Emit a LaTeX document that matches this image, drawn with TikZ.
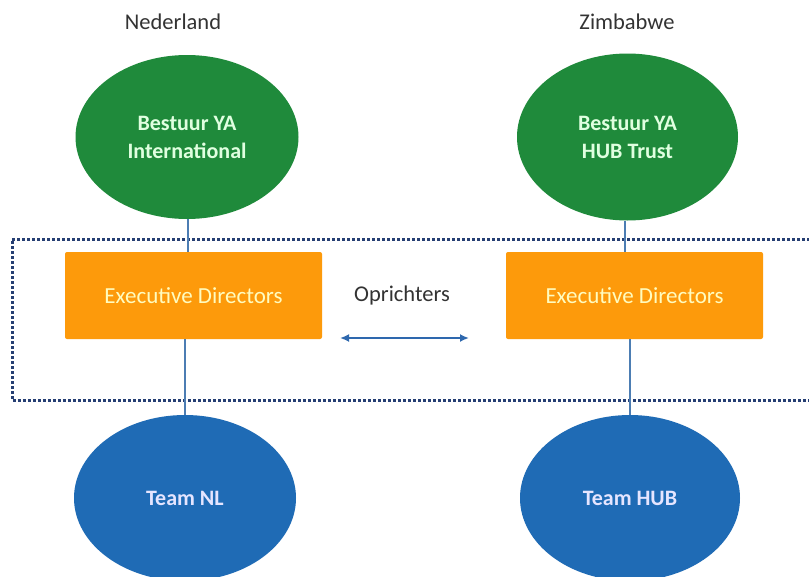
\documentclass[tikz,border=0pt]{standalone}
\usepackage{fontspec}
\setmainfont{Carlito}
\usetikzlibrary{shapes.geometric,arrows.meta}
\definecolor{ygreen}{HTML}{1F8A3B}
\definecolor{yblue}{HTML}{1F6BB5}
\definecolor{yorange}{HTML}{FD9A0B}
\definecolor{ynavy}{HTML}{263F73}
\definecolor{yline}{HTML}{4C7DB3}
\definecolor{yarrow}{HTML}{2E68AE}
\definecolor{ygrey}{HTML}{333333}
\begin{document}
\begin{tikzpicture}[x=1pt,y=-1pt,
  every node/.style={font=\fontsize{22.5}{27}\selectfont},
  greenell/.style={ellipse,fill=ygreen,draw=none,text=white!88!green,font=\fontsize{22}{28}\selectfont\bfseries,align=center,inner sep=0pt},
  blueell/.style={ellipse,fill=yblue,draw=none,text=white!90!blue,font=\fontsize{22}{27}\selectfont\bfseries,inner sep=0pt},
  orbox/.style={rectangle,fill=yorange,draw=none,rounded corners=2pt,text=yellow!25!white,inner sep=0pt,font=\fontsize{23}{27}\selectfont},
  lbl/.style={text=ygrey},
  conn/.style={draw=yline,line width=1.6pt}]
\useasboundingbox (0,0) rectangle (809,576);
\fill[white] (0,0) rectangle (809,576);

\node[lbl] (nl) at (173,22) {Nederland};
\node[lbl] (zw) at (627,22) {Zimbabwe};

\node[greenell,minimum width=223pt,minimum height=164pt] (gl) at (187,137) {Bestuur YA\\International};
\node[greenell,minimum width=221pt,minimum height=167pt] (gr) at (627.5,137) {Bestuur YA\\HUB Trust};

\node[orbox,minimum width=257pt,minimum height=87pt] (ol) at (193.5,295.5) {Executive Directors};
\node[orbox,minimum width=257pt,minimum height=87pt] (or) at (634.5,295.5) {Executive Directors};

\node[blueell,minimum width=222pt,minimum height=166pt] (bl) at (185,498) {Team NL};
\node[blueell,minimum width=220pt,minimum height=166pt] (br) at (630,498) {Team HUB};

\node[lbl] (op) at (402,295) {Oprichters};
\coordinate (al) at (340,338);
\coordinate (ar) at (469,338);

% dotted frame (right side runs off the picture)
\draw[ynavy,line width=3pt,dash pattern=on 3pt off 2pt]
  (830,239) -- (12,239) -- (12,400) -- (830,400);

% connectors
\draw[conn] (gl.south -| 188,0) -- (ol.north -| 188,0);
\draw[conn] (ol.south -| bl.north) -- (bl.north);
\draw[conn] (gr.south -| 625,0) -- (or.north -| 625,0);
\draw[conn] (or.south -| br.north) -- (br.north);

\draw[yarrow,line width=1.8pt,{Latex[length=9pt,width=8pt]}-{Latex[length=9pt,width=8pt]}] (al) -- (ar);
\end{tikzpicture}
\end{document}
